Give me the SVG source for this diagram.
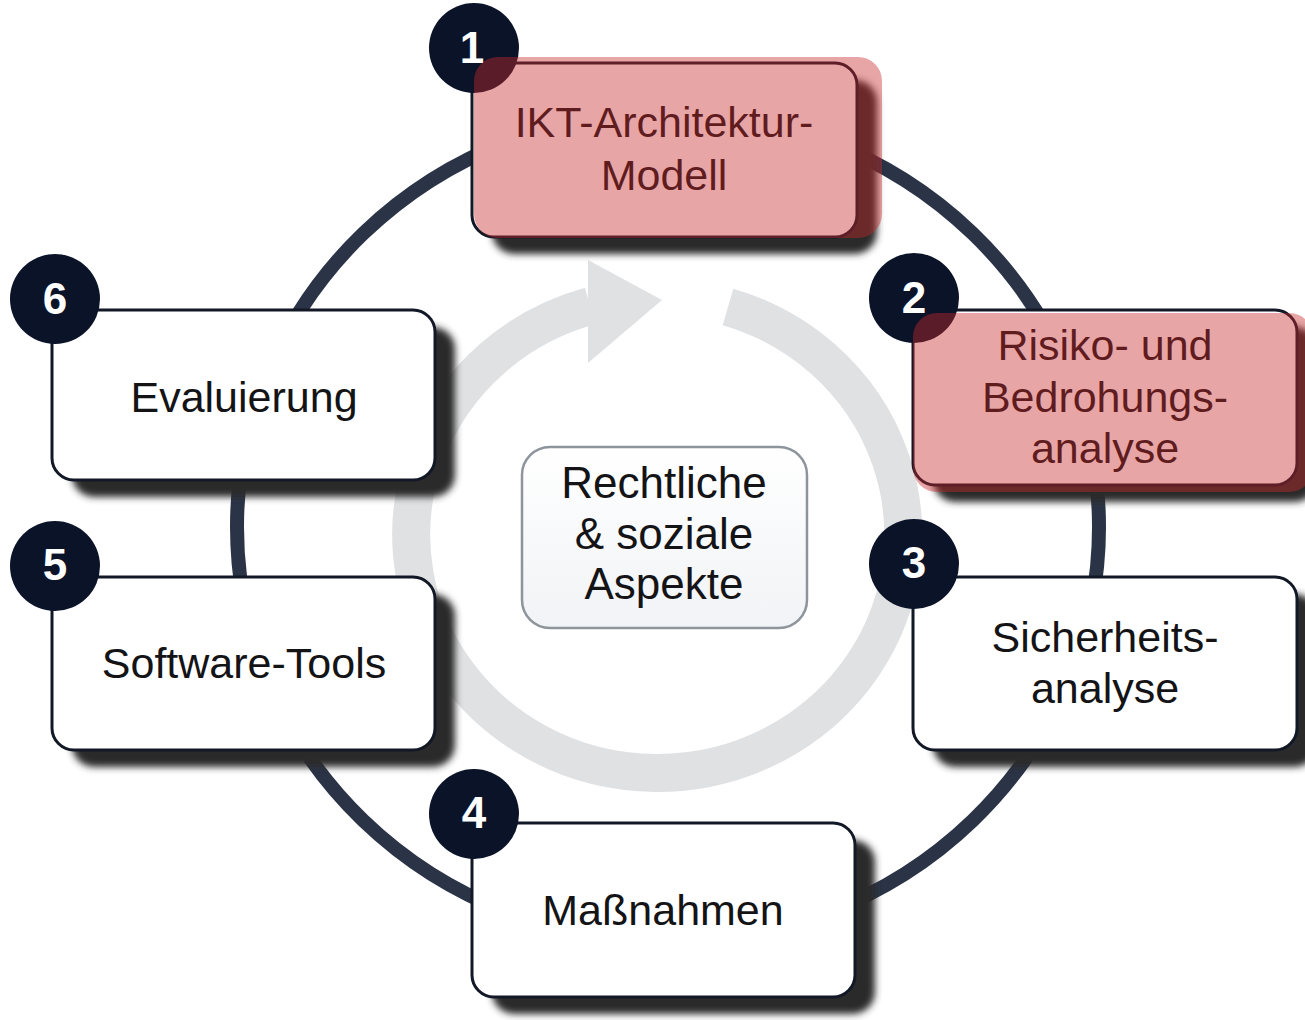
<svg xmlns="http://www.w3.org/2000/svg" width="1305" height="1020" viewBox="0 0 1305 1020">
<defs>
<filter id="blur" x="-10%" y="-10%" width="120%" height="130%"><feGaussianBlur stdDeviation="3.5"/></filter>
<linearGradient id="cg" x1="0" y1="0" x2="0" y2="1"><stop offset="0" stop-color="#ffffff"/><stop offset="1" stop-color="#f1f3f6"/></linearGradient>
<style>
.shadow{fill:#2a2a2c;filter:url(#blur)}
.box{fill:#ffffff;stroke:#121826;stroke-width:3}
.badge{fill:#0b1329}
.num{font-family:"Liberation Sans",Arial,sans-serif;font-weight:bold;font-size:44px;fill:#ffffff;text-anchor:middle}
.lbl{font-family:"Liberation Sans",Arial,sans-serif;font-size:43px;fill:#141417;text-anchor:middle}
.clbl{font-family:"Liberation Sans",Arial,sans-serif;font-size:44px;fill:#141417;text-anchor:middle}
.hl{fill:#c8292b;fill-opacity:0.42}
</style>
</defs>
<rect width="1305" height="1020" fill="#ffffff"/>
<g id="connectors">
<ellipse cx="668" cy="527" rx="431" ry="415" fill="none" stroke="#2b3447" stroke-width="14"/>
<path d="M 728 307 A 246 238 0 1 1 590 306" fill="none" stroke="#e0e1e3" stroke-width="38"/>
<polygon points="588,260 588,363 662,300" fill="#e0e1e3"/>
</g>
<g id="center">
<rect x="522" y="447" width="285" height="181" rx="28" fill="url(#cg)" stroke="#8d949c" stroke-width="2.5"/>
<text class="clbl" x="664" y="498">Rechtliche</text>
<text class="clbl" x="664" y="549">&amp; soziale</text>
<text class="clbl" x="664" y="599">Aspekte</text>
</g>
<g id="node1">
<rect class="shadow" x="492" y="80" width="385" height="174" rx="22"/>
<rect class="box" x="472" y="63" width="385" height="174" rx="22"/>
<circle class="badge" cx="474" cy="48" r="45"/>
<text class="num" x="472" y="63">1</text>
<text class="lbl" x="664" y="137">IKT-Architektur-</text>
<text class="lbl" x="664" y="190">Modell</text>
<rect class="hl" x="474" y="57" width="408" height="181" rx="24"/>
</g>
<g id="node2">
<rect class="shadow" x="933" y="327" width="384" height="175" rx="22"/>
<rect class="box" x="913" y="310" width="384" height="175" rx="22"/>
<circle class="badge" cx="914" cy="298" r="45"/>
<text class="num" x="914" y="313">2</text>
<text class="lbl" x="1105" y="360">Risiko- und</text>
<text class="lbl" x="1105" y="412">Bedrohungs-</text>
<text class="lbl" x="1105" y="463">analyse</text>
<rect class="hl" x="913" y="313" width="400" height="179" rx="24"/>
</g>
<g id="node3">
<rect class="shadow" x="933" y="594" width="384" height="173" rx="22"/>
<rect class="box" x="913" y="577" width="384" height="173" rx="22"/>
<circle class="badge" cx="914" cy="564" r="45"/>
<text class="num" x="914" y="578">3</text>
<text class="lbl" x="1105" y="652">Sicherheits-</text>
<text class="lbl" x="1105" y="703">analyse</text>
</g>
<g id="node4">
<rect class="shadow" x="492" y="840" width="383" height="174" rx="22"/>
<rect class="box" x="472" y="823" width="383" height="174" rx="22"/>
<circle class="badge" cx="474" cy="814" r="45"/>
<text class="num" x="474" y="828">4</text>
<text class="lbl" x="663" y="925">Maßnahmen</text>
</g>
<g id="node5">
<rect class="shadow" x="72" y="594" width="383" height="173" rx="22"/>
<rect class="box" x="52" y="577" width="383" height="173" rx="22"/>
<circle class="badge" cx="55" cy="566" r="45"/>
<text class="num" x="55" y="580">5</text>
<text class="lbl" x="244" y="678">Software-Tools</text>
</g>
<g id="node6">
<rect class="shadow" x="72" y="327" width="383" height="170" rx="22"/>
<rect class="box" x="52" y="310" width="383" height="170" rx="22"/>
<circle class="badge" cx="55" cy="299" r="45"/>
<text class="num" x="55" y="314">6</text>
<text class="lbl" x="244" y="412">Evaluierung</text>
</g>
</svg>
